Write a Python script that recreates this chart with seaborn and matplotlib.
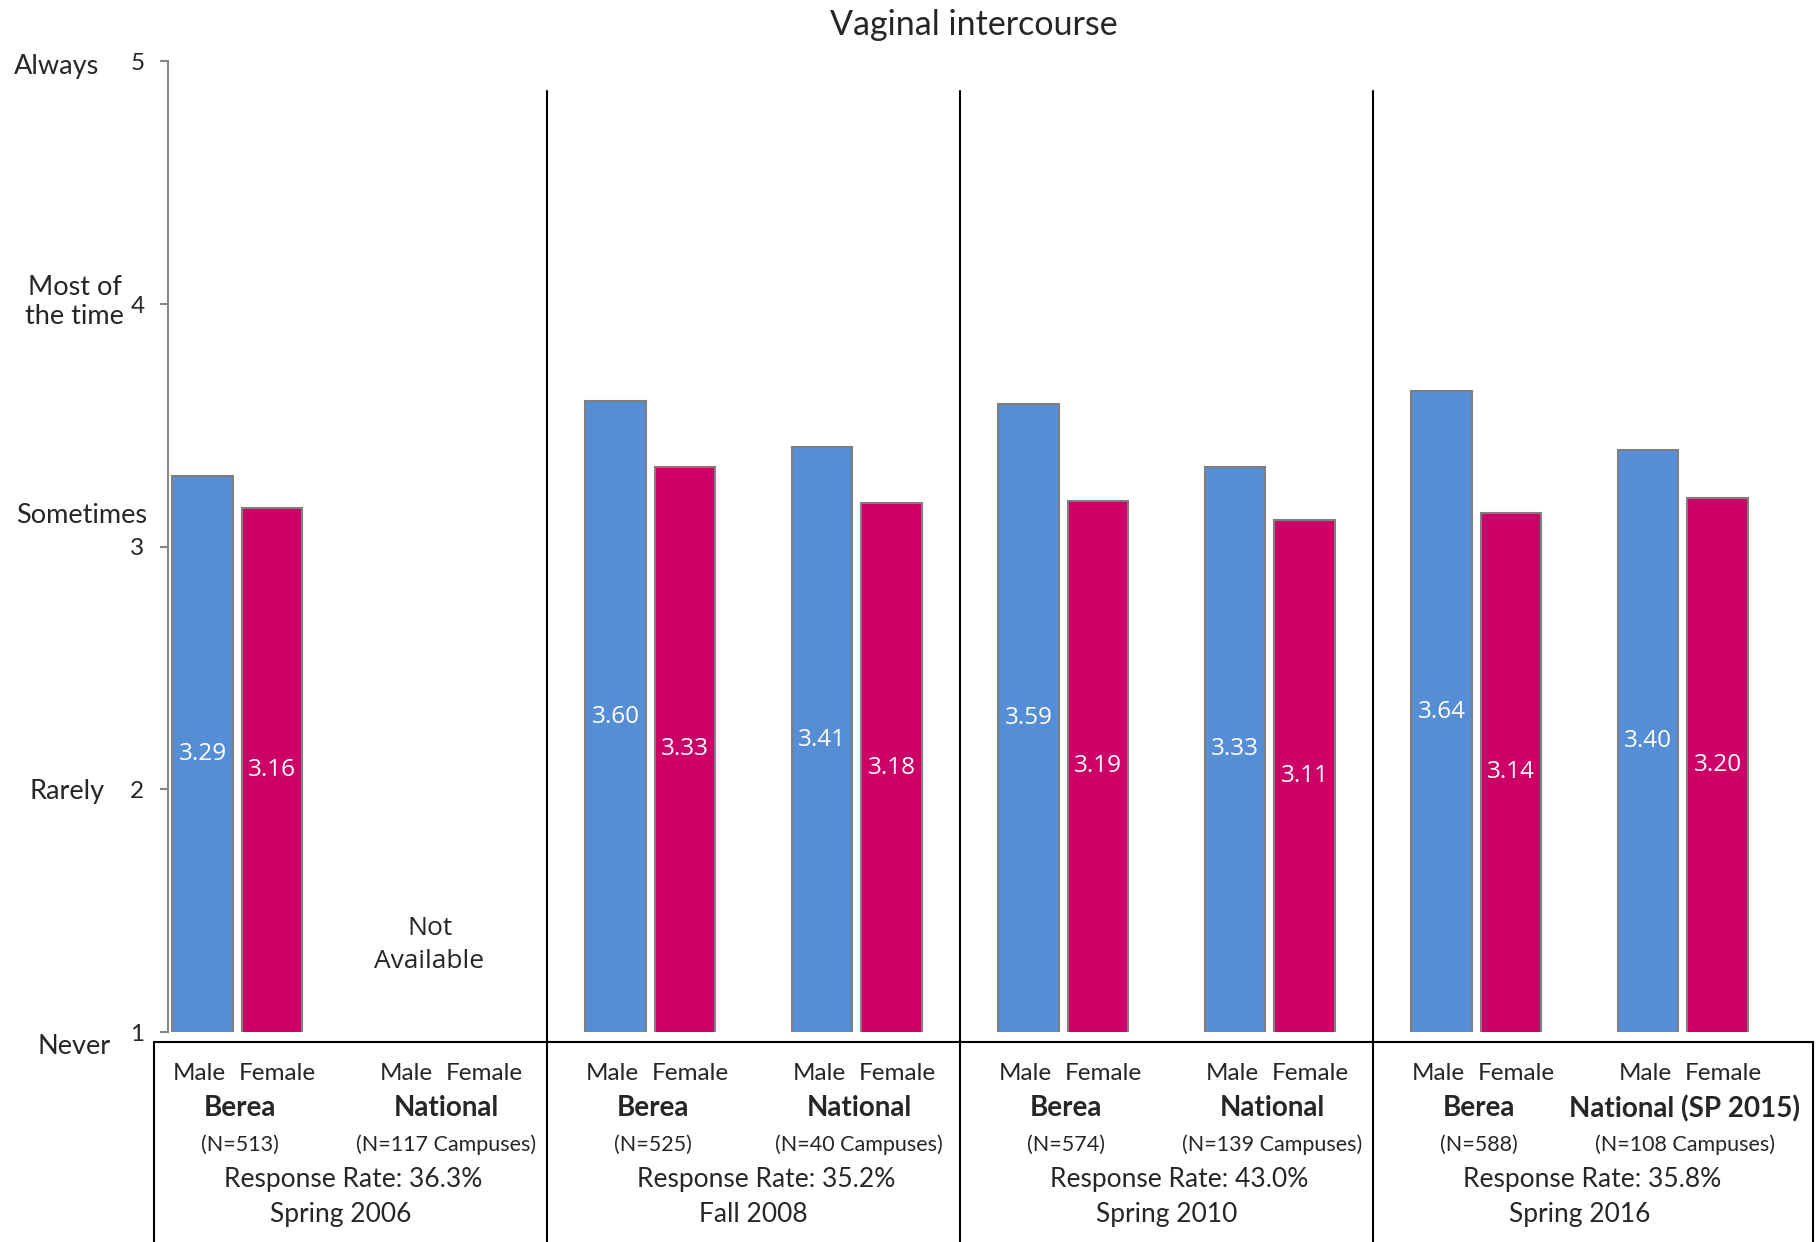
import numpy as np
import pandas as pd
import matplotlib
matplotlib.use("Agg")
import matplotlib.pyplot as plt
import matplotlib.transforms as mtrans
from matplotlib.lines import Line2D
import seaborn as sns

# ── Data ─────────────────────────────────────────────────────────────────────
PERIODS   = ["Spring 2006", "Fall 2008", "Spring 2010", "Spring 2016"]
RESPONSE  = ["36.3%", "35.2%", "43.0%", "35.8%"]
GROUPS    = ["Berea", "National", "Berea", "National",
             "Berea", "National", "Berea", "National (SP 2015)"]
GROUP_N   = ["(N=513)", "(N=117 Campuses)", "(N=525)", "(N=40 Campuses)",
             "(N=574)", "(N=139 Campuses)", "(N=588)", "(N=108 Campuses)"]
MALE      = [3.29, np.nan, 3.60, 3.41, 3.59, 3.33, 3.64, 3.40]
FEMALE    = [3.16, np.nan, 3.33, 3.18, 3.19, 3.11, 3.14, 3.20]
SEXES     = ["Male", "Female"]
Y_TICKS   = [1, 2, 3, 4, 5]
Y_WORDS   = ["Never", "Rarely", "Sometimes", "Most of\nthe time", "Always"]

COLORS    = {"Male": "#558ED5", "Female": "#CC0066"}
GROUP_W   = 0.673
BAR_GAP   = 0.13

slots = [f"{g}|{p}" for g, p in zip(GROUPS, np.repeat(PERIODS, 2))]
df = pd.DataFrame({
    "slot":  slots * 2,
    "sex":   ["Male"] * len(slots) + ["Female"] * len(slots),
    "value": MALE + FEMALE,
})

# ── Figure ───────────────────────────────────────────────────────────────────
sns.set_style("white")
plt.rcParams["font.family"] = ["Lato", "DejaVu Sans"]

fig = plt.figure(figsize=(18.16, 12.42), dpi=100)
ax = fig.add_axes([0.0925, 0.169, 0.907, 0.7815])

sns.barplot(
    data=df, x="slot", y="value", hue="sex",
    order=slots, hue_order=SEXES, palette=COLORS,
    width=GROUP_W, gap=BAR_GAP, saturation=1,
    edgecolor="#7f7f7f", linewidth=1.5, legend=False, ax=ax,
)

ax.set_xlim(-0.3365, 7.64)
ax.set_ylim(1, 5)
ax.set_yticks(Y_TICKS)
ax.set_xticks([])
ax.set_xlabel("")
ax.set_ylabel("")
for side in ["top", "right", "bottom"]:
    ax.spines[side].set_visible(False)
ax.spines["left"].set_color("#868686")
ax.spines["left"].set_linewidth(1.5)
ax.tick_params(axis="y", direction="out", length=6, width=1.5,
               color="#868686", pad=11, labelsize=17.5, left=True)

# value labels in the middle of the visible bar
for cont in ax.containers:
    for p in cont:
        h = p.get_height()
        if np.isnan(h):
            continue
        ax.text(p.get_x() + p.get_width() / 2, (1 + h) / 2, f"{h:.2f}",
                ha="center", va="center", color="white", fontsize=17.5,
                family=["Open Sans", "DejaVu Sans"])

ax.text(0.93, 1.36, "Not\nAvailable", ha="center", va="center",
        fontsize=19, linespacing=1.4, family=["Open Sans", "DejaVu Sans"])

# scale words on the left
word_tr = mtrans.blended_transform_factory(fig.transFigure, ax.transData)
word_pos = [(0.041, 0.94), (0.037, 1.99), (0.045, 3.13), (0.041, 4.01), (0.031, 4.98)]
for (fx, fy), w in zip(word_pos, Y_WORDS):
    ax.text(fx, fy, w, transform=word_tr, ha="center", va="center",
            fontsize=19.5, linespacing=1.2, clip_on=False)

fig.text(0.536, 0.980, "Vaginal intercourse", ha="center", va="center", fontsize=24.5)

# ── Bottom table ─────────────────────────────────────────────────────────────
tr = mtrans.blended_transform_factory(ax.transData, fig.transFigure)
off = GROUP_W / 4
for i in range(len(slots)):
    ax.text(i - off - 0.015, 0.1357, "Male", transform=tr, ha="center", va="center", fontsize=17.5)
    ax.text(i + off + 0.025, 0.1357, "Female", transform=tr, ha="center", va="center", fontsize=17.5)
    ax.text(i + 0.01, 0.1075, GROUPS[i], transform=tr, ha="center", va="center",
            fontsize=20, fontweight="bold")
    ax.text(i + 0.01, 0.078, GROUP_N[i], transform=tr, ha="center", va="center", fontsize=15.5)

for k, (per, rr) in enumerate(zip(PERIODS, RESPONSE)):
    ax.text(2 * k + 0.56, 0.0505, f"Response Rate: {rr}", transform=tr,
            ha="center", va="center", fontsize=19)
    ax.text(2 * k + 0.5, 0.022, per, transform=tr, ha="center", va="center", fontsize=19)

# separators between survey periods
for xs in [1.5, 3.5, 5.5]:
    ax.axvline(xs, ymin=-0.22, ymax=0.97, color="black", lw=1.5, clip_on=False)

# outer box of the table
box_kw = dict(color="black", lw=1.5, transform=fig.transFigure)
fig.add_artist(Line2D([0.0848, 0.9983], [0.161, 0.161], **box_kw))
fig.add_artist(Line2D([0.0848, 0.0848], [0.0, 0.161], **box_kw))
fig.add_artist(Line2D([0.9983, 0.9983], [0.0, 0.161], **box_kw))

fig.savefig("out.png", dpi=100, facecolor="white")
